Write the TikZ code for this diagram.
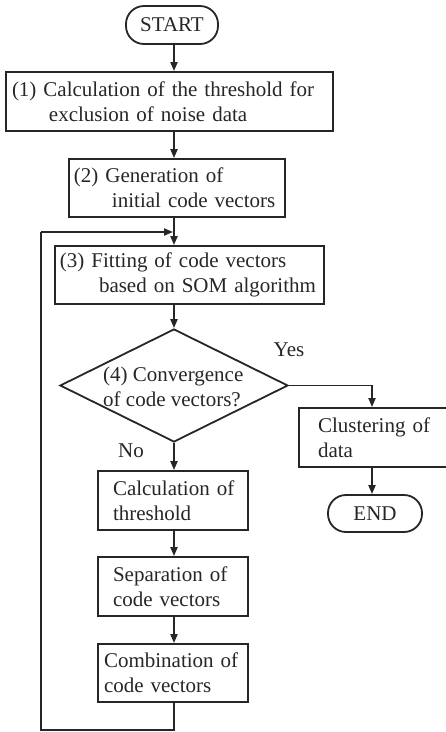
\documentclass[tikz,border=0pt]{standalone}
\usepackage{fontspec}
\setmainfont{Liberation Serif}
\usetikzlibrary{shapes.geometric,arrows.meta}
\definecolor{ink}{HTML}{262626}
\begin{document}
\begin{tikzpicture}[x=1pt,y=-1pt,
  every node/.style={font=\fontsize{21}{25}\selectfont, text=ink},
  box/.style={draw=ink, line width=1.8pt, rectangle, align=left, inner xsep=0pt, inner ysep=2pt, minimum height=58pt},
  term/.style={draw=ink, line width=1.8pt, rectangle, rounded corners=18pt, inner sep=0pt},
  conn/.style={draw=ink, line width=1.8pt},
  arr/.style={conn, -{Triangle[length=9pt,width=7pt]}},
  lbl/.style={inner sep=0pt}
]
\useasboundingbox (0,0) rectangle (446,732);
\coordinate (col) at (174,0);
\coordinate (cl) at (372,0);

\node[term, minimum width=92pt, minimum height=38pt] (start) at (172,25) {START};
\node[box, text width=327pt, minimum height=59pt] (b1) at (169.5,101.5)
  {\hspace*{6pt}(1) Calculation of the threshold for\\\hspace*{43pt}exclusion of noise data};
\node[box, text width=216pt] (b2) at (177,188)
  {\hspace*{5pt}(2) Generation of\\\hspace*{43pt}initial code vectors};
\node[box, text width=269pt] (b3) at (189.5,275)
  {\hspace*{5pt}(3) Fitting of code vectors\\\hspace*{44pt}based on SOM algorithm};
\node[diamond, draw=ink, line width=1.8pt, inner sep=0pt, minimum width=228pt, minimum height=113pt] (d4) at (174,385.5) {};
\node[lbl, anchor=west, align=left] (d4t) at (103,386.5) {(4) Convergence\\of code vectors?};
\node[box, text width=150pt, minimum height=59pt] (calc) at (173,500.5)
  {\hspace*{15pt}Calculation of\\\hspace*{15pt}threshold};
\node[box, text width=150pt, minimum height=59pt] (sep) at (173,586.5)
  {\hspace*{15pt}Separation of\\\hspace*{15pt}code vectors};
\node[box, text width=150pt, minimum height=58pt] (comb) at (173,673)
  {\hspace*{6pt}Combination of\\\hspace*{6pt}code vectors};
\node[box, text width=158pt, minimum height=59pt] (clust) at (378,437.5)
  {\hspace*{19pt}Clustering of\\\hspace*{19pt}data};
\node[term, minimum width=94pt, minimum height=37pt] (end) at (375,513.5) {END};

\node[lbl] (yes) at (289,350) {Yes};
\node[lbl] (no) at (131,451) {No};

\coordinate (lb) at (41,730);
\coordinate (lt) at (41,232);

\draw[arr] (start.south -| col) -- (b1.north -| col);
\draw[arr] (b1.south -| col) -- (b2.north -| col);
\draw[arr] (b2.south -| col) -- (b3.north -| col);
\draw[arr] (b3.south -| col) -- (d4.north);
\draw[arr] (d4.south) -- (calc.north -| col);
\draw[arr] (calc.south -| col) -- (sep.north -| col);
\draw[arr] (sep.south -| col) -- (comb.north -| col);
\draw[arr] (d4.east) -| (clust.north -| cl);
\draw[arr] (clust.south -| cl) -- (end.north -| cl);
\draw[conn, line join=miter] (comb.south -| col) |- (lb) -- (lt);
\draw[arr] (lt) -- ([xshift=-1pt]lt -| col);
\end{tikzpicture}
\end{document}
